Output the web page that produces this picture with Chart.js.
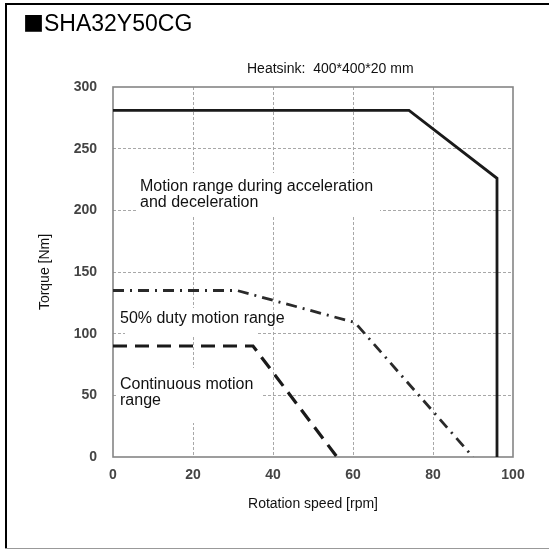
<!DOCTYPE html>
<html>
<head>
<meta charset="utf-8">
<script src="https://cdn.jsdelivr.net/npm/chart.js@4/dist/chart.umd.min.js"></script>
<style>
html,body{margin:0;padding:0;background:#fff;}
canvas{display:block;}
</style>
</head>
<body>
<canvas id="c" width="549" height="550" style="width:549px;height:550px"></canvas>
<script>
// ---- data ----
const titleMark = "■";
const title = "SHA32Y50CG";
const subtitle = "Heatsink:  400*400*20 mm";
const xTitle = "Rotation speed [rpm]";
const yTitle = "Torque [Nm]";

const accelSpeed  = [0, 74, 96, 96];
const accelTorque = [281, 281, 226, 0];

const dutySpeed  = [0, 31, 60.5, 90];
const dutyTorque = [135, 135, 109, 0];

const contSpeed  = [0, 35, 56];
const contTorque = [90, 90, 0];

const xTicks = [0, 20, 40, 60, 80, 100];
const yTicks = [0, 50, 100, 150, 200, 250, 300];

const labelAccel = ["Motion range during acceleration", "and deceleration"];
const labelDuty = ["50% duty motion range"];
const labelCont = ["Continuous motion", "range"];

function pts(xs, ys){ return xs.map((x,i)=>({x:x, y:ys[i]})); }

const FONT = "'Liberation Sans', Arial, sans-serif";

const decor = {
  id: 'decor',
  beforeDraw(chart){
    const ctx = chart.ctx;
    ctx.save();
    ctx.fillStyle = '#fff';
    ctx.fillRect(0,0,chart.width,chart.height);
    ctx.restore();
  },
  beforeDatasetsDraw(chart){
    const ctx = chart.ctx;
    const a = chart.chartArea;
    ctx.save();
    // white label backgrounds
    ctx.fillStyle = '#fff';
    ctx.fillRect(136,173,244,42);
    ctx.fillRect(125,308,132,29);
    ctx.fillRect(117,368,146,55);
    // plot frame
    ctx.strokeStyle = '#858585';
    ctx.lineWidth = 1.6;
    ctx.strokeRect(a.left, a.top, a.right - a.left, a.bottom - a.top);
    // annotation text
    ctx.fillStyle = '#111';
    ctx.font = "16px " + FONT;
    ctx.textBaseline = 'alphabetic';
    ctx.textAlign = 'left';
    ctx.fillText(labelAccel[0], 140, 191);
    ctx.fillText(labelAccel[1], 140, 207);
    ctx.fillText(labelDuty[0], 120, 323);
    ctx.fillText(labelCont[0], 120, 389);
    ctx.fillText(labelCont[1], 120, 405);
    ctx.restore();
  },
  afterDraw(chart){
    const ctx = chart.ctx;
    ctx.save();
    // outer frame
    ctx.fillStyle = '#000';
    ctx.fillRect(5,3,544,2);
    ctx.fillRect(5,3,2,546);
    ctx.fillStyle = '#999';
    ctx.fillRect(5,548,544,1);
    // title
    ctx.fillStyle = '#000';
    ctx.textBaseline = 'alphabetic';
    ctx.textAlign = 'left';
    ctx.font = "21px 'Noto Sans CJK JP', sans-serif";
    const mw = ctx.measureText(titleMark).width;
    ctx.fillText(titleMark, 23, 31);
    ctx.font = "23px " + FONT;
    ctx.fillText(title, 23 + mw + 0, 31);
    // subtitle
    ctx.fillStyle = '#111';
    ctx.font = "14px " + FONT;
    ctx.fillText(subtitle, 247, 73);
    ctx.restore();
  }
};

new Chart(document.getElementById('c'), {
  type: 'scatter',
  data: {
    datasets: [
      { data: pts(accelSpeed, accelTorque), showLine: true, borderColor: '#1a1a1a', borderWidth: 2.8, pointRadius: 0, fill: false, tension: 0 },
      { data: pts(dutySpeed, dutyTorque), showLine: true, borderColor: '#2a2a2a', borderWidth: 2.8, borderDash: [11,6,2,6], pointRadius: 0, fill: false, tension: 0 },
      { data: pts(contSpeed, contTorque), showLine: true, borderColor: '#1a1a1a', borderWidth: 3.2, borderDash: [14,8], pointRadius: 0, fill: false, tension: 0 }
    ]
  },
  options: {
    responsive: false,
    animation: false,
    devicePixelRatio: 1,
    layout: { padding: { left: 0, right: 36, top: 87, bottom: 0 } },
    plugins: { legend: { display: false }, tooltip: { enabled: false }, title: { display: false } },
    scales: {
      x: {
        type: 'linear', min: 0, max: 100,
        afterFit(s){ s.height = 93; },
        afterBuildTicks(s){ s.ticks = xTicks.map(v=>({value:v})); },
        ticks: { padding: 10, color: '#444', font: { family: FONT, size: 14, weight: 'bold' } },
        grid: { drawTicks: false, lineWidth: 1, color: c => (c.tick && (c.tick.value === 0 || c.tick.value === 100)) ? 'rgba(0,0,0,0)' : '#a8a8a8' },
        border: { display: false, dash: [3,2] },
        title: { display: true, text: xTitle, color: '#111', padding: { top: 0, bottom: 37 }, font: { family: FONT, size: 14 } }
      },
      y: {
        type: 'linear', min: 0, max: 300,
        afterFit(s){ s.width = 113; },
        afterBuildTicks(s){ s.ticks = yTicks.map(v=>({value:v})); },
        ticks: { padding: 16, color: '#444', font: { family: FONT, size: 14, weight: 'bold' } },
        grid: { drawTicks: false, lineWidth: 1, color: c => (c.tick && (c.tick.value === 0 || c.tick.value === 300)) ? 'rgba(0,0,0,0)' : '#a8a8a8' },
        border: { display: false, dash: [3,2] },
        title: { display: true, text: yTitle, color: '#111', padding: { top: 37, bottom: 0 }, font: { family: FONT, size: 14 } }
      }
    }
  },
  plugins: [decor]
});
</script>
</body>
</html>
